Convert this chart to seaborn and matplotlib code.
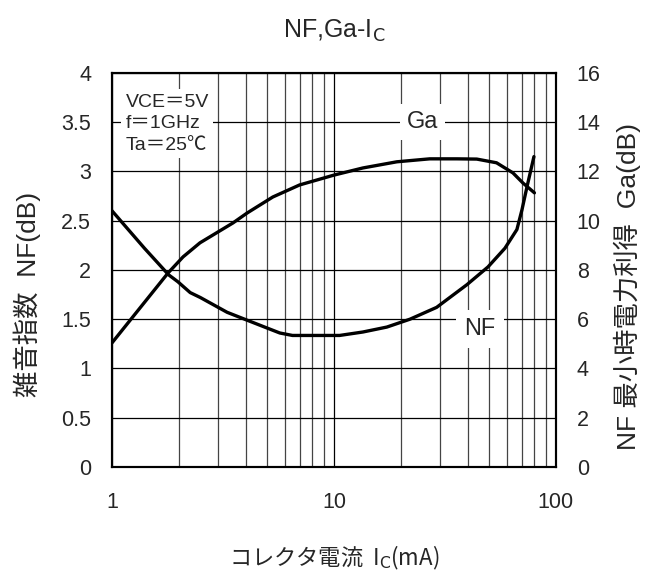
import numpy as np
import pandas as pd
import matplotlib
matplotlib.use('Agg')
import matplotlib.pyplot as plt
import seaborn as sns
from matplotlib.ticker import FixedLocator, NullFormatter

# NF curve (left axis, dB) vs collector current (mA)
nf_ic = [1.0, 1.4, 1.8, 1.98, 2.25, 2.5, 3.3, 4.06, 5.0, 5.7, 6.5, 8.0, 10.6, 13.5, 17.3, 22, 29, 39.7, 49.4, 58.9, 66.7, 70.3, 74, 79.6]
nf_db = [2.6, 2.22, 1.95, 1.88, 1.77, 1.72, 1.57, 1.49, 1.41, 1.36, 1.335, 1.335, 1.335, 1.37, 1.42, 1.50, 1.62, 1.85, 2.03, 2.22, 2.41, 2.61, 2.84, 3.15]

# Ga curve (right axis, dB)
ga_ic = [1.0, 1.24, 1.79, 2.09, 2.49, 3.51, 4.06, 5.3, 7.0, 10.0, 13.5, 19.2, 27, 35.8, 44, 54, 64, 71, 80]
ga_db = [5.04, 6.09, 7.88, 8.53, 9.10, 9.91, 10.31, 10.96, 11.45, 11.85, 12.14, 12.39, 12.51, 12.51, 12.5, 12.35, 11.94, 11.53, 11.13]

nf_df = pd.DataFrame({'ic': nf_ic, 'nf': nf_db})
ga_df = pd.DataFrame({'ic': ga_ic, 'ga': ga_db})

sns.set_style('white')
plt.rcParams['font.family'] = ['Liberation Sans', 'Noto Sans CJK JP', 'DejaVu Sans']
jp = ['Noto Sans CJK JP']

fig = plt.figure(figsize=(6.49, 5.83), dpi=100)
ax = fig.add_axes([0.1726, 0.199, 0.684, 0.676])
ax2 = ax.twinx()

sns.lineplot(data=nf_df, x='ic', y='nf', ax=ax, color='black', linewidth=2.4, sort=False)
sns.lineplot(data=ga_df, x='ic', y='ga', ax=ax2, color='black', linewidth=2.4, sort=False)

ax.set_xscale('log')
ax.set_xlim(1, 100)
ax.set_ylim(0, 4)
ax2.set_ylim(0, 16)

minor = [m * d for d in (1, 10) for m in range(2, 10)]
ax.xaxis.set_minor_locator(FixedLocator(minor))
ax.xaxis.set_minor_formatter(NullFormatter())
ax.set_xticks([1, 10, 100])
ax.set_xticklabels(['1', '10', '100'])
ax.set_yticks(np.arange(0, 4.01, 0.5))
ax.set_yticklabels(['0', '0.5', '1', '1.5', '2', '2.5', '3', '3.5', '4'])
ax2.set_yticks(np.arange(0, 16.1, 2))

ax.grid(True, which='major', color='black', linewidth=0.9)
ax.grid(True, which='minor', axis='x', color='#444444', linewidth=0.9)
ax.set_axisbelow(True)

for a in (ax, ax2):
    for s in a.spines.values():
        s.set_color('black')
        s.set_linewidth(1.5)
    a.tick_params(axis='both', which='both', labelsize=15.5, length=0, pad=15)
ax.tick_params(axis='x', pad=18)

ax.set_xlabel('コレクタ電流  I$_\\mathrm{C}$(mA)', fontsize=16, labelpad=22, family=jp)
ax.set_ylabel('雑音指数  NF(dB)', fontsize=19)
ax2.set_ylabel('NF 最小時電力利得  Ga(dB)', fontsize=19)
ax.yaxis.set_label_coords(-0.191, 0.437)
ax2.yaxis.set_label_coords(1.160, 0.457)
ax.yaxis.label.set_va('center')
ax2.yaxis.label.set_va('center')
ax.set_title('NF,Ga-I$_\\mathrm{C}$', fontsize=18, pad=25)

ax.text(1.15, 3.79, 'VCE＝5V\nf＝1GHz\nTa＝25℃', fontsize=14, va='top', ha='left',
        linespacing=1.35, bbox=dict(facecolor='white', edgecolor='none', pad=3), zorder=5)
ax.text(25, 3.5, 'Ga', fontsize=17, ha='center', va='center',
        bbox=dict(facecolor='white', edgecolor='none', pad=5), zorder=5)
ax.text(45.5, 1.40, 'NF', fontsize=17, ha='center', va='center',
        bbox=dict(facecolor='white', edgecolor='none', pad=6), zorder=5)

fig.savefig('out.png', dpi=100)
